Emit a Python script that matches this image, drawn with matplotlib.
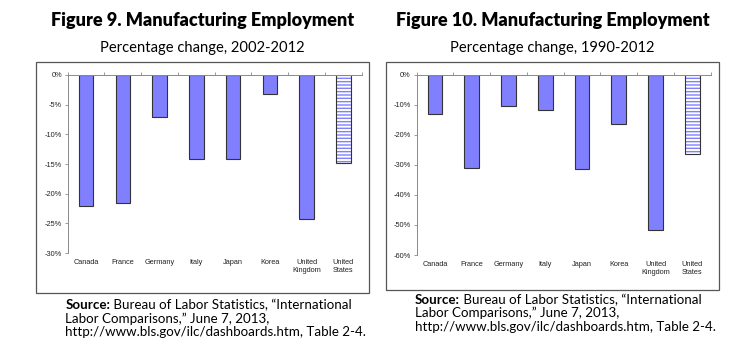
import numpy as np
import matplotlib.pyplot as plt
from matplotlib.patches import Rectangle

# data
countries = ['Canada', 'France', 'Germany', 'Italy', 'Japan', 'Korea',
             'United\nKingdom', 'United\nStates']
chg_2002_2012 = [-22.0, -21.6, -7.0, -14.1, -14.1, -3.2, -24.2, -14.8]
chg_1990_2012 = [-12.9, -31.1, -10.4, -11.7, -31.4, -16.4, -51.7, -26.4]
yticks_left = [0, -5, -10, -15, -20, -25, -30]
yticks_right = [0, -10, -20, -30, -40, -50, -60]

titles = ['Figure 9. Manufacturing Employment', 'Figure 10. Manufacturing Employment']
subtitles = ['Percentage change, 2002-2012', 'Percentage change, 1990-2012']
source = ['Bureau of Labor Statistics, \u201cInternational',
          'Labor Comparisons,\u201d June 7, 2013,',
          'http://www.bls.gov/ilc/dashboards.htm, Table 2-4.']

bar_col = '#8080ff'
edge_col = '#333333'
axis_col = '#8a8a8a'
plt.rcParams['hatch.linewidth'] = 1.0

fig = plt.figure(figsize=(7.5, 3.63), dpi=100)

panels = [
    dict(vals=chg_2002_2012, ticks=yticks_left, ax=[0.0903, 0.303, 0.392, 0.4904],
         box=[0.048, 0.193, 0.444, 0.636], title_x=0.270, src=(0.087, 0.149)),
    dict(vals=chg_1990_2012, ticks=yticks_right, ax=[0.5556, 0.2975, 0.392, 0.496],
         box=[0.5147, 0.201, 0.444, 0.628], title_x=0.737, src=(0.553, 0.163)),
]

for i, p in enumerate(panels):
    # grey frame around each chart
    fig.patches.append(Rectangle((p['box'][0], p['box'][1]), p['box'][2], p['box'][3],
                                 transform=fig.transFigure, fill=False,
                                 edgecolor='#555555', linewidth=0.9))

    ax = fig.add_axes(p['ax'])
    x = np.arange(len(countries))
    vals = np.array(p['vals'])
    ax.bar(x[:-1], vals[:-1], width=0.4, color=bar_col, edgecolor=edge_col, linewidth=0.8)
    # US bar: white with blue stripes
    ax.bar(x[-1:], vals[-1:], width=0.4, color='white', edgecolor=bar_col,
           linewidth=0, hatch='-----')
    ax.bar(x[-1:], vals[-1:], width=0.4, fill=False, edgecolor=edge_col, linewidth=0.8)

    ax.set_xlim(-0.5, len(countries) - 0.5)
    ax.set_ylim(min(p['ticks']), 0)
    ax.set_yticks(p['ticks'])
    ax.set_yticklabels([f'{t}%' for t in p['ticks']], fontsize=5.3,
                       family='Liberation Sans', color='#222222')
    ax.tick_params(axis='y', length=2.2, width=0.6, color=axis_col, pad=2)

    ax.set_xticks(x)
    ax.set_xticklabels(countries, fontsize=5.3, family='Liberation Sans',
                       linespacing=1.25, color='#222222')
    ax.tick_params(axis='x', which='major', length=0, pad=4)
    ax.set_xticks(np.arange(-0.5, len(countries)), minor=True)
    ax.tick_params(axis='x', which='minor', top=True, bottom=False, direction='out',
                   length=2.2, width=0.6, color=axis_col)

    for s in ['right', 'bottom']:
        ax.spines[s].set_visible(False)
    for s in ['left', 'top']:
        ax.spines[s].set_color(axis_col)
        ax.spines[s].set_linewidth(0.7)
    ax.patch.set_alpha(0)

    fig.text(p['title_x'], 0.943, titles[i], ha='center', va='center',
             fontsize=13, fontweight='heavy', family='Lato')
    fig.text(p['title_x'], 0.868, subtitles[i], ha='center', va='center',
             fontsize=10.6, family='Lato')

    sx, sy = p['src']
    t = fig.text(sx, sy, 'Source:', fontsize=9.6, fontweight='bold', family='Lato',
                 va='baseline')
    ax.annotate(' ' + source[0], xy=(1, 0), xycoords=t, fontsize=9.6, family='Lato',
                va='bottom', ha='left', annotation_clip=False)
    for k in (1, 2):
        fig.text(sx, sy - k * 0.0375, source[k], fontsize=9.6, family='Lato',
                 va='baseline')

fig.savefig('out.png', dpi=100)
